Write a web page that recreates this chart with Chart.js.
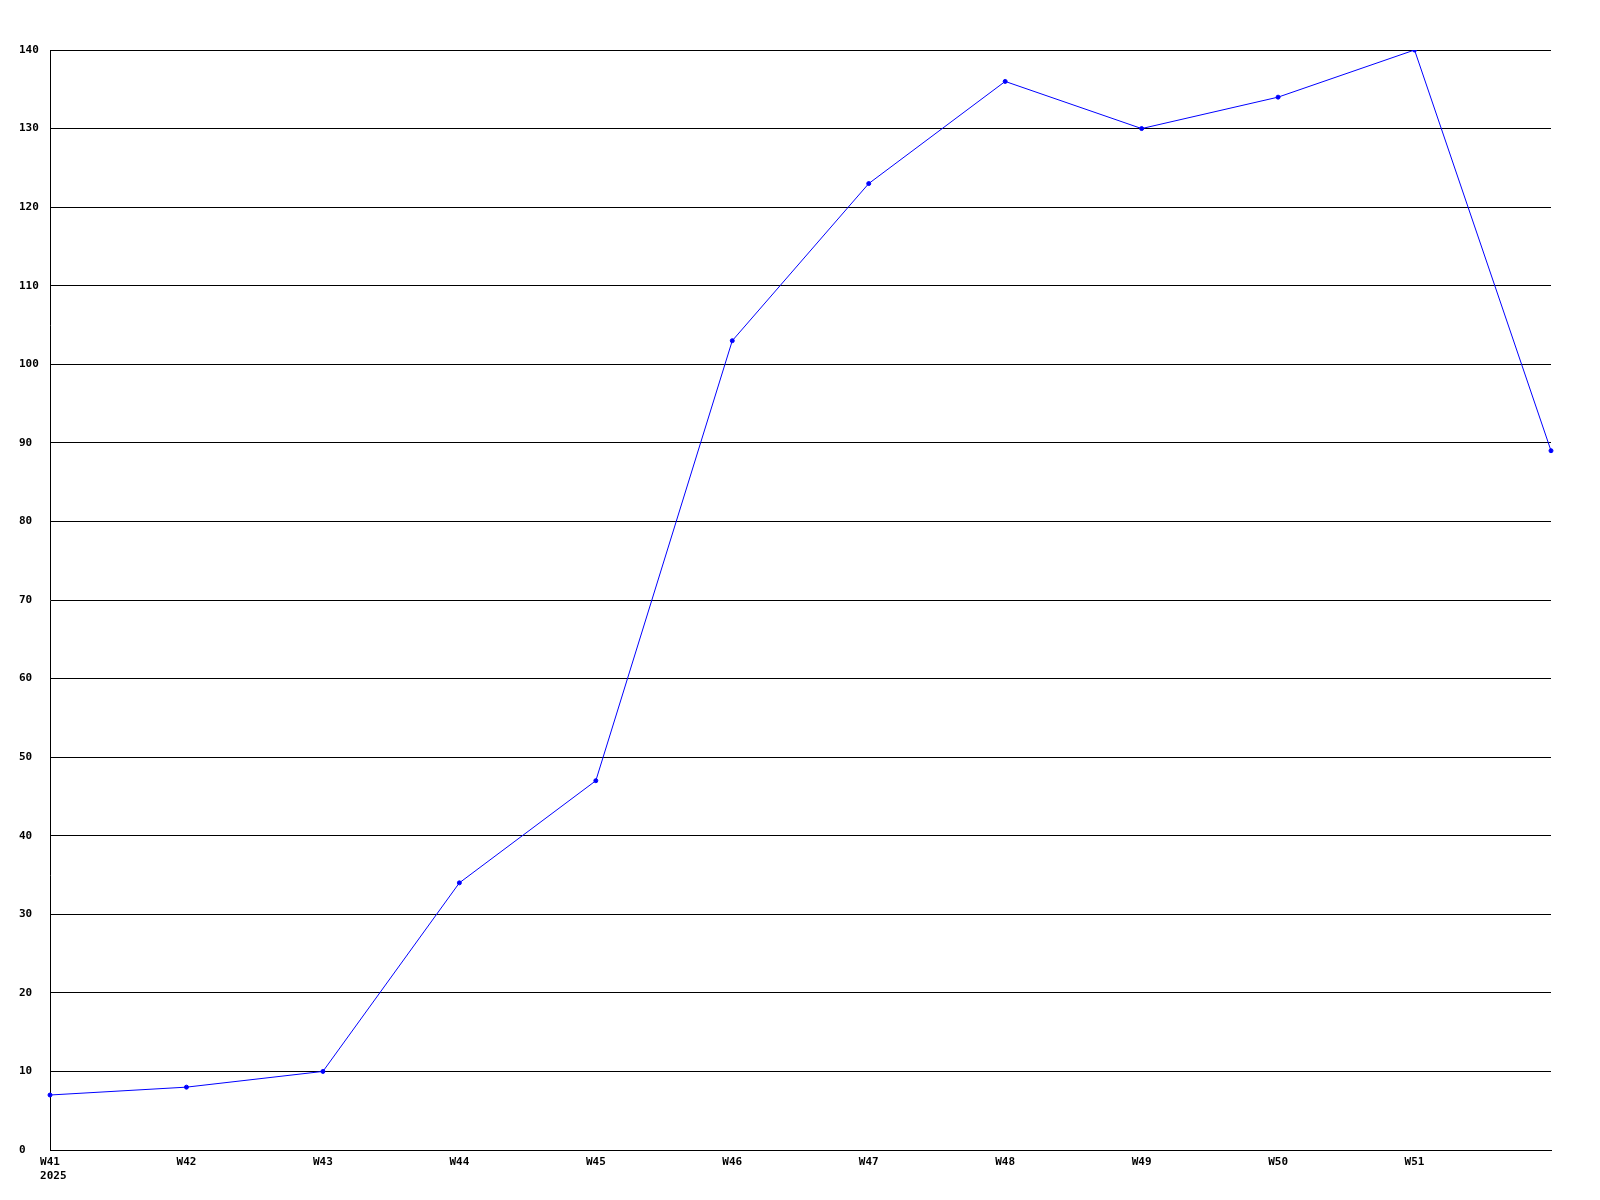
<!DOCTYPE html>
<html>
<head>
<meta charset="utf-8">
<script src="https://cdn.jsdelivr.net/npm/chart.js@4/dist/chart.umd.min.js"></script>
<style>
  html, body { margin: 0; padding: 0; background: #fff; }
  #wrap { width: 1600px; height: 1200px; }
</style>
</head>
<body>
<div id="wrap"><canvas id="weekChart"></canvas></div>
<script>
// semanas y valores
const semanas = ["W41", "W42", "W43", "W44", "W45", "W46", "W47", "W48", "W49", "W50", "W51", "W52"];
const valores = [7, 8, 10, 34, 47, 103, 123, 136, 130, 134, 140, 89];
const anio = "2025";
const yTicks = [0, 10, 20, 30, 40, 50, 60, 70, 80, 90, 100, 110, 120, 130, 140];

const fuente = { family: "'DejaVu Sans Mono', monospace", size: 11, weight: "bold" };

let ctx = document.getElementById("weekChart").getContext("2d");
let weekChart = new Chart(ctx, {
  type: "line",
  data: {
    labels: semanas,
    datasets: [
      {
        data: valores,
        borderColor: "rgb(0, 0, 255)",
        backgroundColor: "rgb(0, 0, 255)",
        borderWidth: 1,
        pointRadius: 2,
        pointHoverRadius: 2,
        fill: false,
        tension: 0,
      },
    ],
  },
  options: {
    responsive: true,
    maintainAspectRatio: false,
    animation: false,
    layout: { padding: { left: 19, right: 49, top: 50, bottom: 0 } },
    plugins: { legend: { display: false }, tooltip: { enabled: false } },
    scales: {
      x: {
        offset: false,
        grid: { display: false, drawTicks: false },
        border: { display: true, color: "#000", width: 1 },
        ticks: {
          color: "#000",
          font: fuente,
          padding: 6,
          maxRotation: 0,
          autoSkip: false,
          callback: function (value, index) {
            // la ultima semana no lleva etiqueta en el original
            if (index === semanas.length - 1) return "";
            // el año va alineado a la izquierda bajo la primera semana
            if (index === 0) return [semanas[index], " " + anio];
            return semanas[index];
          },
        },
        afterFit: function (axis) {
          axis.height = 50;
        },
      },
      y: {
        min: 0,
        max: 140,
        afterBuildTicks: function (axis) {
          axis.ticks = yTicks.map((v) => ({ value: v }));
        },
        grid: { color: "#000", lineWidth: 1, drawTicks: false },
        border: { display: true, color: "#000", width: 1 },
        ticks: {
          color: "#000",
          font: fuente,
          crossAlign: "far",
          padding: 0,
        },
        afterFit: function (axis) {
          axis.width = 31;
          axis.paddingTop = 0;
          axis.paddingBottom = 0;
        },
      },
    },
  },
});
</script>
</body>
</html>
